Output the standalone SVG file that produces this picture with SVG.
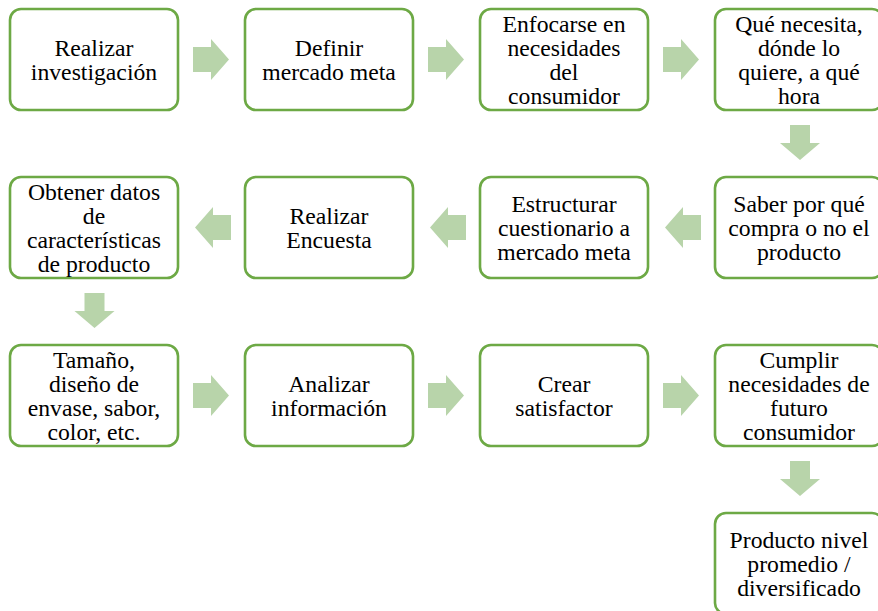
<svg xmlns="http://www.w3.org/2000/svg" width="878" height="611" viewBox="0 0 878 611">
<style>
.box{fill:#ffffff;stroke:#6DA945;stroke-width:2.6}
.arr{fill:#B8D4AA;stroke:none}
</style>
<defs>
<path id="ar" d="M0,-12.5 H18 V-20.5 L36,0 L18,20.5 V12.5 H0 Z"/>
<path id="al" d="M0,-12.5 H-18 V-20.5 L-36,0 L-18,20.5 V12.5 H0 Z"/>
<path id="ad" d="M-10,0 H10 V18 H20 L0,35 L-20,18 H-10 Z"/>
</defs>
<rect width="878" height="611" fill="#ffffff"/>
<g id="connectors">
<use href="#ar" class="arr" x="193" y="59.5"/>
<use href="#ar" class="arr" x="428" y="59.5"/>
<use href="#ar" class="arr" x="663" y="59.5"/>
<use href="#ad" class="arr" x="800" y="125"/>
<use href="#al" class="arr" x="701" y="227.5"/>
<use href="#al" class="arr" x="466" y="227.5"/>
<use href="#al" class="arr" x="231" y="227.5"/>
<use href="#ad" class="arr" x="94.5" y="293"/>
<use href="#ar" class="arr" x="193" y="395.5"/>
<use href="#ar" class="arr" x="428" y="395.5"/>
<use href="#ar" class="arr" x="663" y="395.5"/>
<use href="#ad" class="arr" x="800" y="461"/>
</g>
<g font-family="Liberation Serif" font-size="23.7" fill="#000000" text-anchor="middle">
<g id="n1"><rect class="box" x="10" y="9" width="168" height="101" rx="11"/>
<text x="94" y="55.5">Realizar</text><text x="94" y="79.5">investigación</text></g>
<g id="n2"><rect class="box" x="245" y="9" width="168" height="101" rx="11"/>
<text x="329" y="55.5">Definir</text><text x="329" y="79.5">mercado meta</text></g>
<g id="n3"><rect class="box" x="480" y="9" width="168" height="101" rx="11"/>
<text x="564" y="31.5">Enfocarse en</text><text x="564" y="55.5">necesidades</text><text x="564" y="79.5">del</text><text x="564" y="103.5">consumidor</text></g>
<g id="n4"><rect class="box" x="715" y="9" width="168" height="101" rx="11"/>
<text x="799" y="31.5">Qué necesita,</text><text x="799" y="55.5">dónde lo</text><text x="799" y="79.5">quiere, a qué</text><text x="799" y="103.5">hora</text></g>
<g id="n5"><rect class="box" x="715" y="177" width="168" height="101" rx="11"/>
<text x="799" y="211.5">Saber por qué</text><text x="799" y="235.5">compra o no el</text><text x="799" y="259.5">producto</text></g>
<g id="n6"><rect class="box" x="480" y="177" width="168" height="101" rx="11"/>
<text x="564" y="211.5">Estructurar</text><text x="564" y="235.5">cuestionario a</text><text x="564" y="259.5">mercado meta</text></g>
<g id="n7"><rect class="box" x="245" y="177" width="168" height="101" rx="11"/>
<text x="329" y="223.5">Realizar</text><text x="329" y="247.5">Encuesta</text></g>
<g id="n8"><rect class="box" x="10" y="177" width="168" height="101" rx="11"/>
<text x="94" y="199.5">Obtener datos</text><text x="94" y="223.5">de</text><text x="94" y="247.5">características</text><text x="94" y="271.5">de producto</text></g>
<g id="n9"><rect class="box" x="10" y="345" width="168" height="101" rx="11"/>
<text x="94" y="367.5">Tamaño,</text><text x="94" y="391.5">diseño de</text><text x="94" y="415.5">envase, sabor,</text><text x="94" y="439.5">color, etc.</text></g>
<g id="n10"><rect class="box" x="245" y="345" width="168" height="101" rx="11"/>
<text x="329" y="391.5">Analizar</text><text x="329" y="415.5">información</text></g>
<g id="n11"><rect class="box" x="480" y="345" width="168" height="101" rx="11"/>
<text x="564" y="391.5">Crear</text><text x="564" y="415.5">satisfactor</text></g>
<g id="n12"><rect class="box" x="715" y="345" width="168" height="101" rx="11"/>
<text x="799" y="367.5">Cumplir</text><text x="799" y="391.5">necesidades de</text><text x="799" y="415.5">futuro</text><text x="799" y="439.5">consumidor</text></g>
<g id="n13"><rect class="box" x="715" y="513" width="168" height="101" rx="11"/>
<text x="799" y="547.5">Producto nivel</text><text x="799" y="571.5">promedio /</text><text x="799" y="595.5">diversificado</text></g>
</g>
</svg>
